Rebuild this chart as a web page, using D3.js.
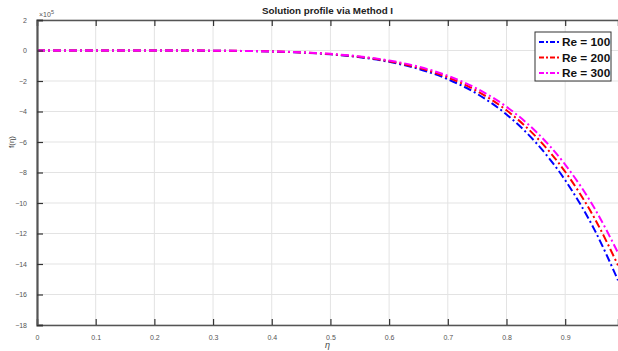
<!DOCTYPE html>
<html>
<head>
<meta charset="utf-8">
<script src="https://cdn.jsdelivr.net/npm/d3@7"></script>
<style>
  body { margin: 0; background: #fff; }
  svg { display: block; font-family: "Liberation Sans", Arial, sans-serif; }
</style>
</head>
<body>
<script>
// eta samples
var eta = [0, 0.05, 0.1, 0.15, 0.2, 0.25, 0.3, 0.35, 0.4, 0.45, 0.5,
           0.55, 0.6, 0.65, 0.7, 0.75, 0.8, 0.85, 0.9, 0.95, 0.99];

// f(eta) values, in units of 1e-5
var re100 = [0, 0, -0.00002, -0.0002, -0.001, -0.0039, -0.0117, -0.0294, -0.0655, -0.133, -0.25,
             -0.443, -0.746, -1.207, -1.882, -2.848, -4.194, -6.034, -8.503, -11.761, -15.064];
var re200 = [0, 0, -0.00002, -0.0002, -0.0009, -0.0036, -0.011, -0.0275, -0.061, -0.124, -0.234,
             -0.414, -0.698, -1.128, -1.76, -2.663, -3.921, -5.642, -7.95, -11.0, -14.08];
var re300 = [0, 0, -0.00001, -0.00016, -0.0009, -0.0034, -0.0103, -0.0259, -0.0576, -0.117, -0.22,
             -0.39, -0.656, -1.062, -1.656, -2.506, -3.69, -5.31, -7.48, -10.35, -13.26];

var seriesNames = ["Re = 100", "Re = 200", "Re = 300"];
var seriesColors = ["#0000ff", "#ff0000", "#ff00ff"];

var xTicks = [0, 0.1, 0.2, 0.3, 0.4, 0.5, 0.6, 0.7, 0.8, 0.9];
var yTicks = [2, 0, -2, -4, -6, -8, -10, -12, -14, -16, -18];

function drawChart() {
    var svgWidth = 618;
    var svgHeight = 351;

    var margin = { top: 20, right: 0, bottom: 26, left: 37 };
    var chartWidth = svgWidth - margin.left - margin.right;
    var chartHeight = svgHeight - margin.top - margin.bottom;

    var svg = d3.select("body")
        .append("svg")
        .attr("width", svgWidth)
        .attr("height", svgHeight);

    var chartGroup = svg.append("g")
        .attr("transform", `translate(${margin.left}, ${margin.top})`);

    var x = d3.scaleLinear()
        .domain([0, 0.99])
        .range([0, chartWidth]);

    var y = d3.scaleLinear()
        .domain([-18, 2])
        .range([chartHeight, 0]);

    // grid
    chartGroup.append("g")
        .selectAll("line.vgrid")
        .data(xTicks)
        .enter()
        .append("line")
        .attr("x1", d => x(d)).attr("x2", d => x(d))
        .attr("y1", 0).attr("y2", chartHeight)
        .attr("stroke", "#e3e3e3")
        .attr("stroke-width", 1);

    chartGroup.append("g")
        .selectAll("line.hgrid")
        .data(yTicks)
        .enter()
        .append("line")
        .attr("x1", 0).attr("x2", chartWidth)
        .attr("y1", d => y(d)).attr("y2", d => y(d))
        .attr("stroke", "#e3e3e3")
        .attr("stroke-width", 1);

    // curves
    var allSeries = [re100, re200, re300];
    var line = d3.line()
        .x((d, i) => x(eta[i]))
        .y(d => y(d))
        .curve(d3.curveMonotoneX);

    allSeries.forEach(function(vals, k) {
        chartGroup.append("path")
            .datum(vals)
            .attr("d", line)
            .attr("fill", "none")
            .attr("stroke", seriesColors[k])
            .attr("stroke-width", 2)
            .attr("stroke-dasharray", "8,3,2,3");
    });

    // bottom axis
    var xAxis = chartGroup.append("g")
        .attr("transform", "translate(0," + chartHeight + ")")
        .call(d3.axisBottom(x).tickValues(xTicks).tickSize(-6).tickPadding(10)
              .tickFormat(d => d === 0 ? "0" : d3.format(".1f")(d)));

    // top axis
    var xAxisTop = chartGroup.append("g")
        .call(d3.axisTop(x).tickValues(xTicks).tickSize(-6).tickFormat(""));

    // left axis
    var yAxis = chartGroup.append("g")
        .call(d3.axisLeft(y).tickValues(yTicks).tickSize(-6).tickPadding(10));

    [xAxis, xAxisTop, yAxis].forEach(function(a) {
        a.select(".domain").attr("stroke", "#555").attr("stroke-width", 1.5);
        a.selectAll(".tick line").attr("stroke", "#333").attr("stroke-width", 1.2);
        a.selectAll(".tick text").attr("fill", "#555").attr("font-size", "7px");
    });
    yAxis.select(".domain").attr("stroke-width", 2.2);

    // exponent label
    chartGroup.append("text")
        .attr("x", 2)
        .attr("y", -3)
        .attr("font-size", "7px")
        .attr("fill", "#555")
        .html("\u00d710<tspan dy='-3' font-size='5.5px'>5</tspan>");

    // title
    chartGroup.append("text")
        .attr("x", chartWidth / 2)
        .attr("y", -6)
        .attr("text-anchor", "middle")
        .attr("font-weight", "bold")
        .attr("font-size", "9.8px")
        .attr("fill", "#222")
        .text("Solution profile via Method I");

    // axis labels
    chartGroup.append("text")
        .attr("x", chartWidth / 2)
        .attr("y", chartHeight + 23)
        .attr("text-anchor", "middle")
        .attr("font-size", "9px")
        .attr("font-style", "italic")
        .attr("fill", "#444")
        .text("\u03b7");

    chartGroup.append("text")
        .attr("transform", "rotate(-90)")
        .attr("x", 0 - (y(-6)))
        .attr("y", -23)
        .attr("text-anchor", "middle")
        .attr("font-size", "8px")
        .attr("fill", "#444")
        .text("f(\u03b7)");

    // legend
    var legend = svg.append("g")
        .attr("transform", "translate(535, 32)");

    legend.append("rect")
        .attr("width", 76)
        .attr("height", 49)
        .attr("fill", "#fff")
        .attr("stroke", "#333")
        .attr("stroke-width", 1);

    seriesNames.forEach(function(name, k) {
        var ly = 10 + k * 15.5;
        legend.append("line")
            .attr("x1", 4).attr("x2", 26)
            .attr("y1", ly).attr("y2", ly)
            .attr("stroke", seriesColors[k])
            .attr("stroke-width", 2)
            .attr("stroke-dasharray", "5,2,2,2");
        legend.append("text")
            .attr("x", 27)
            .attr("y", ly + 4)
            .attr("font-size", "11.8px")
            .attr("font-weight", "bold")
            .attr("fill", "#111")
            .text(name);
    });
}

drawChart();
</script>
</body>
</html>
